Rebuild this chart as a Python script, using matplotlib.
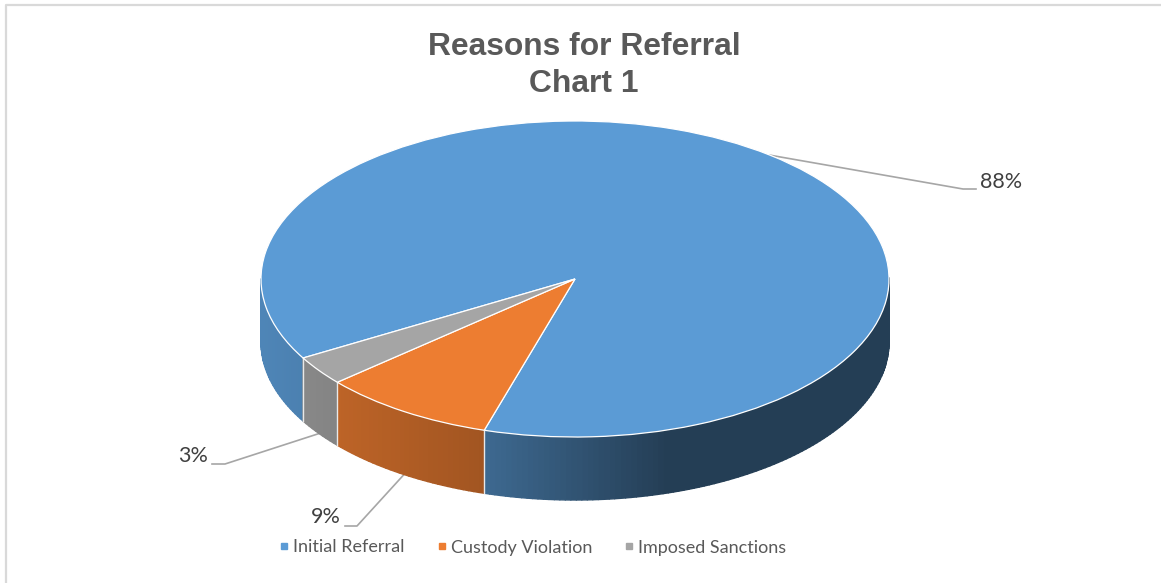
import numpy as np
import matplotlib
matplotlib.use("Agg")
import matplotlib.pyplot as plt
from matplotlib.collections import PolyCollection
from matplotlib.colors import to_rgb
from matplotlib.lines import Line2D

categories = ["Initial Referral", "Custody Violation", "Imposed Sanctions"]
values = [88, 9, 3]
colors = ["#5B9BD5", "#ED7D31", "#A5A5A5"]
title_text = "Reasons for Referral\nChart 1"

W, H = 1161, 583
CX, CY, RX, RY, DEPTH = 575, 279, 314, 158, 63
START = 210

fig = plt.figure(figsize=(W / 100, H / 100), dpi=100, facecolor="white")
ax = fig.add_axes([0, 0, 1, 1])

# The axes use unit-circle coordinates, squashed so the pie top reads as an ellipse.
def to_x(px):
    return (px - CX) / RX

def to_y(py):
    return (CY - py) / RY

ax.pie(values, colors=colors, startangle=START, counterclock=False, radius=1,
       wedgeprops=dict(edgecolor="white", linewidth=0.9, zorder=5))
ax.set_aspect("auto")
ax.set_xlim(to_x(0), to_x(W))
ax.set_ylim(to_y(H), to_y(0))
ax.axis("off")

depth = DEPTH / RY
fractions = np.cumsum([0] + values) / sum(values)
angles = START - 360 * fractions


def shade(x):
    # Side-wall lighting falls off from left to right, then stays flat.
    return np.interp(x, [-1, -0.29, 0.29, 1], [0.86, 0.68, 0.40, 0.40])


polys, fills = [], []
for i, color in enumerate(colors):
    rgb = np.array(to_rgb(color))
    n = max(int(abs(angles[i] - angles[i + 1])), 2)
    th = np.radians(np.linspace(angles[i], angles[i + 1], n + 1))
    for a, b in zip(th[:-1], th[1:]):
        if np.sin((a + b) / 2) < 0:
            xa, xb, ya, yb = np.cos(a), np.cos(b), np.sin(a), np.sin(b)
            polys.append([(xa, ya), (xb, yb), (xb, yb - depth), (xa, ya - depth)])
            fills.append(rgb * shade((xa + xb) / 2))
ax.add_collection(PolyCollection(polys, facecolors=fills, edgecolors=fills,
                                 linewidths=1.0, zorder=3))

# Pale seams where the slices meet on the visible wall.
for ang in angles[1:]:
    t = np.radians(ang)
    if np.sin(t) < 0:
        ax.plot([np.cos(t)] * 2, [np.sin(t), np.sin(t) - depth],
                color="#e8e8e8", lw=1.0, zorder=4)

# Leader lines run from each slice's mid angle to its label.
label_px = [(1001, 182), (326, 517), (193, 456)]
leader_px = [[(963, 189), (976, 189)], [(357, 526), (345, 526)], [(225, 464), (212, 464)]]
for i in range(len(values)):
    mid = np.radians((angles[i] + angles[i + 1]) / 2)
    x0, y0 = np.cos(mid), np.sin(mid)
    if y0 < 0:
        y0 -= depth
    xs = [x0] + [to_x(p[0]) for p in leader_px[i]]
    ys = [y0] + [to_y(p[1]) for p in leader_px[i]]
    ax.plot(xs, ys, color="#A6A6A6", lw=1.2, zorder=2)
    ax.text(to_x(label_px[i][0]), to_y(label_px[i][1]), f"{values[i]}%",
            family="Lato", fontsize=15.5, color="#404040", ha="center", va="center")

ax.text(to_x(584), to_y(65.5), title_text, family="Liberation Sans", fontweight="bold",
        fontsize=22.9, color="#595959", ha="center", va="center", linespacing=1.3)

handles = [Line2D([], [], linestyle="none", marker="s", markersize=5, color=c) for c in colors]
ax.legend(handles, categories, ncol=3, loc="center", frameon=False,
          bbox_to_anchor=(532.5 / W, 1 - 547.5 / H), prop=dict(family="Lato", size=13),
          labelcolor="#595959", handlelength=0.6, handletextpad=0.2, columnspacing=1.75)

# The frame only survives along the top and left edges.
fig.add_artist(Line2D([5.5 / W, 5.5 / W, 1], [0, 1 - 4.7 / H, 1 - 4.7 / H],
                      transform=fig.transFigure, color="#D9D9D9", lw=1.6))
fig.savefig("out.png", dpi=100, facecolor="white")
